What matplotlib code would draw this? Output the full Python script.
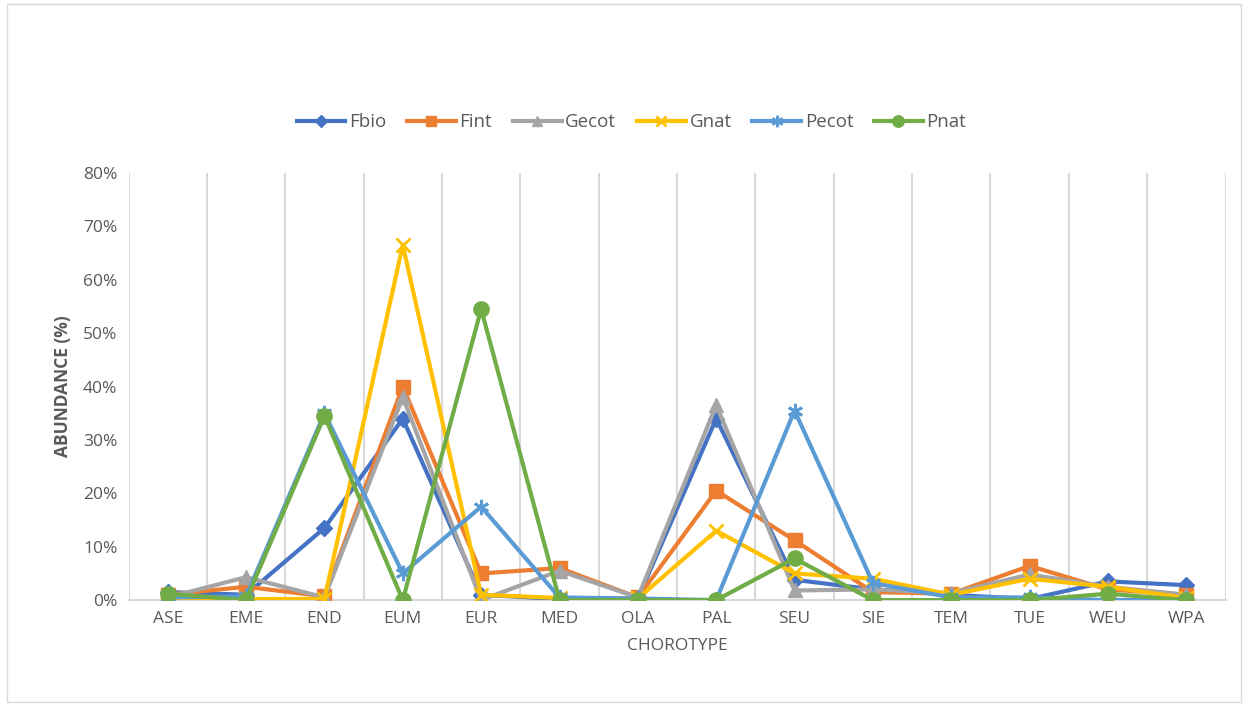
import matplotlib
matplotlib.use("Agg")
import matplotlib.pyplot as plt
from matplotlib.ticker import PercentFormatter, FixedLocator
import numpy as np

plt.rcParams['font.family'] = ['Open Sans', 'DejaVu Sans']

categories = ["ASE", "EME", "END", "EUM", "EUR", "MED", "OLA", "PAL", "SEU", "SIE", "TEM", "TUE", "WEU", "WPA"]
fbio  = [1.5, 1.0, 13.5, 34.0, 1.0, 0.2, 0.3, 34.0, 3.8, 2.0, 1.0, 0.2, 3.5, 2.8]
fint  = [1.0, 2.5, 0.7, 40.0, 5.0, 6.0, 0.5, 20.5, 11.2, 1.5, 1.2, 6.4, 2.0, 1.0]
gecot = [0.5, 4.3, 0.5, 38.0, 0.0, 5.5, 0.5, 36.5, 1.8, 2.0, 1.3, 4.8, 2.5, 1.0]
gnat  = [0.2, 0.2, 0.2, 66.5, 1.0, 0.4, 0.3, 13.0, 5.0, 4.0, 1.0, 4.0, 2.5, 0.4]
pecot = [0.5, 0.7, 35.0, 5.0, 17.5, 0.5, 0.3, 0.0, 35.5, 3.2, 0.5, 0.5, 0.0, 0.2]
pnat  = [1.2, 0.0, 34.5, 0.0, 54.5, 0.0, 0.0, 0.0, 7.8, 0.0, 0.0, 0.0, 1.2, 0.0]

series = [
    ("Fbio", fbio, "#4472C4", "D", 8),
    ("Fint", fint, "#ED7D31", "s", 9.5),
    ("Gecot", gecot, "#A5A5A5", "^", 10.5),
    ("Gnat", gnat, "#FFC000", "x", 10),
    ("Pecot", pecot, "#5B9BD5", (6, 2, 0), 11),
    ("Pnat", pnat, "#70AD47", "o", 11),
]

fig = plt.figure(figsize=(12.48, 7.06), dpi=100)
fig.patch.set_facecolor("white")
border = plt.Rectangle((0.006, 0.006), 0.988, 0.988, transform=fig.transFigure,
                       fill=False, edgecolor="#D9D9D9", linewidth=1)
fig.add_artist(border)

ax = fig.add_axes([0.103, 0.150, 0.879, 0.605])
x = np.arange(len(categories))
for name, vals, col, mk, ms in series:
    ax.plot(x, np.array(vals) / 100.0, color=col, linewidth=3.0, marker=mk,
            markersize=ms, markeredgewidth=2 if mk in ("x", (6, 2, 0)) else 1,
            markerfacecolor=col, markeredgecolor=col, label=name, zorder=3)

ax.set_xlim(-0.5, len(categories) - 0.5)
ax.set_ylim(0, 0.8)
ax.set_yticks(np.arange(0, 0.81, 0.1))
ax.yaxis.set_major_formatter(PercentFormatter(1.0, decimals=0))
ax.set_xticks(x)
ax.set_xticklabels(categories)
ax.xaxis.set_minor_locator(FixedLocator(np.arange(-0.5, len(categories), 1.0)))
ax.grid(which="minor", axis="x", color="#D9D9D9", linewidth=1.5)
ax.grid(which="major", visible=False)
ax.tick_params(axis="both", which="both", length=0, labelsize=12.5, colors="#595959", pad=8)
for s in ["top", "right", "left"]:
    ax.spines[s].set_visible(False)
ax.spines["bottom"].set_color("#D9D9D9")
ax.spines["bottom"].set_linewidth(1.5)

ax.set_ylabel("ABUNDANCE (%)", fontsize=12.5, color="#595959", fontweight="bold", labelpad=8)
ax.set_xlabel("CHOROTYPE", fontsize=12.5, color="#595959", labelpad=8)

handles, labels = ax.get_legend_handles_labels()
leg = fig.legend(handles, labels, loc="center", bbox_to_anchor=(0.506, 0.827), ncol=6, frameon=False,
                 fontsize=13.5, handlelength=2.6, columnspacing=1.1, handletextpad=0.2,
                 markerscale=0.75)
for t in leg.get_texts():
    t.set_color("#595959")

fig.savefig("out.png", dpi=100, facecolor="white")
